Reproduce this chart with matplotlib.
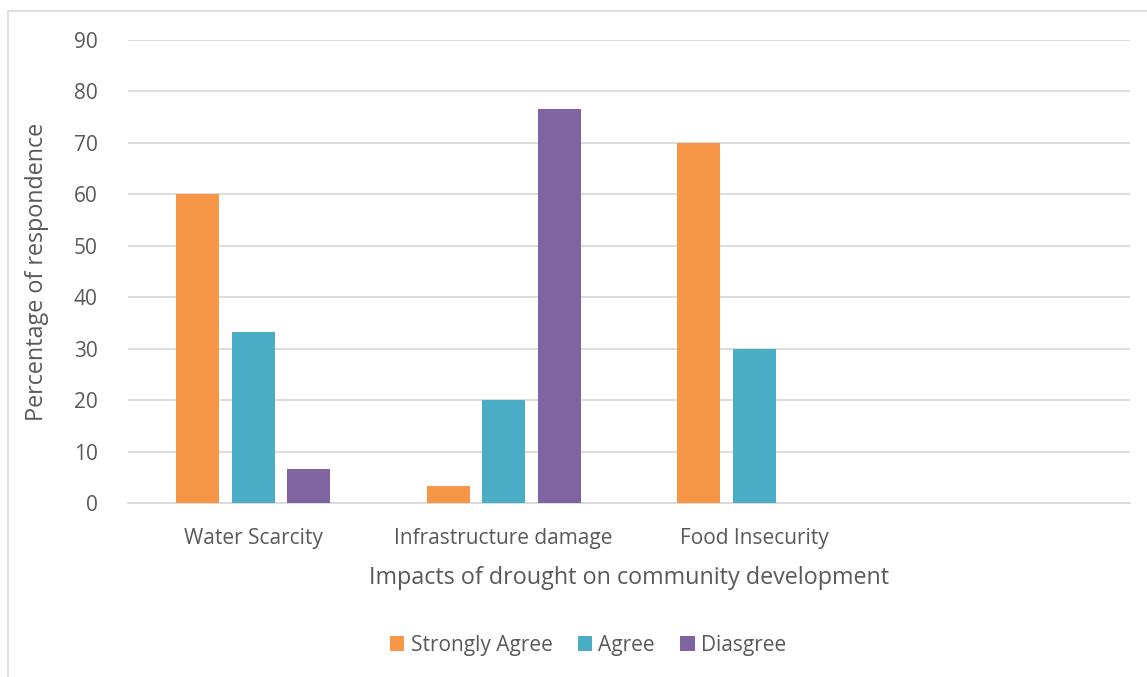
import matplotlib
matplotlib.use("Agg")
import matplotlib.pyplot as plt
from matplotlib.patches import Rectangle
import numpy as np

categories = ["Water Scarcity", "Infrastructure damage", "Food Insecurity", ""]
series_names = ["Strongly Agree", "Agree", "Diasgree"]
strongly_agree = [60, 3.33, 70, 0]
agree = [33.33, 20, 30, 0]
disagree = [6.67, 76.67, 0, 0]
colors = ["#F79646", "#4BACC6", "#8064A2"]
yticks = [0, 10, 20, 30, 40, 50, 60, 70, 80, 90]

plt.rcParams['font.family'] = ['Open Sans', 'DejaVu Sans']
W, H = 1147, 677
fig = plt.figure(figsize=(W/100, H/100), dpi=100)
ax = fig.add_axes([128/W, 1-503/H, (1130-128)/W, (503-40)/H])

x = np.arange(len(categories))
off = 0.2215
bw = 0.172
for i, (vals, name, c) in enumerate(zip([strongly_agree, agree, disagree], series_names, colors)):
    ax.bar(x + (i-1)*off, vals, width=bw, color=c, label=name, zorder=3)

ax.set_xlim(-0.5, 3.5)
ax.set_ylim(0, 90)
ax.set_yticks(yticks)
ax.set_xticks(x)
ax.set_xticklabels(categories)
ax.grid(axis='y', color='#D9D9D9', linewidth=1.3, zorder=0)
for s in ['top', 'right', 'left']:
    ax.spines[s].set_visible(False)
ax.spines['bottom'].set_color('#D9D9D9')
ax.spines['bottom'].set_linewidth(1.3)
ax.tick_params(axis='both', length=0, colors='#595959', labelsize=15)
ax.tick_params(axis='y', pad=22)
ax.tick_params(axis='x', pad=18)
ax.set_xlabel("Impacts of drought on community development", fontsize=16.8, color='#595959', labelpad=12)
ax.set_ylabel("Percentage of respondence", fontsize=16.8, color='#595959', labelpad=18)

leg = fig.legend(loc='center', bbox_to_anchor=(588/W, 1-645/H), ncol=3, frameon=False,
                 fontsize=15, handlelength=0.7, handleheight=0.7, handletextpad=0.3,
                 columnspacing=1.2, labelcolor='#595959')

fig.patches.append(Rectangle((8/W, -0.1), 1.2, 1-11/H+0.1, transform=fig.transFigure,
                             fill=False, edgecolor='#D9D9D9', linewidth=1.2))
fig.savefig("out.png", dpi=100)
